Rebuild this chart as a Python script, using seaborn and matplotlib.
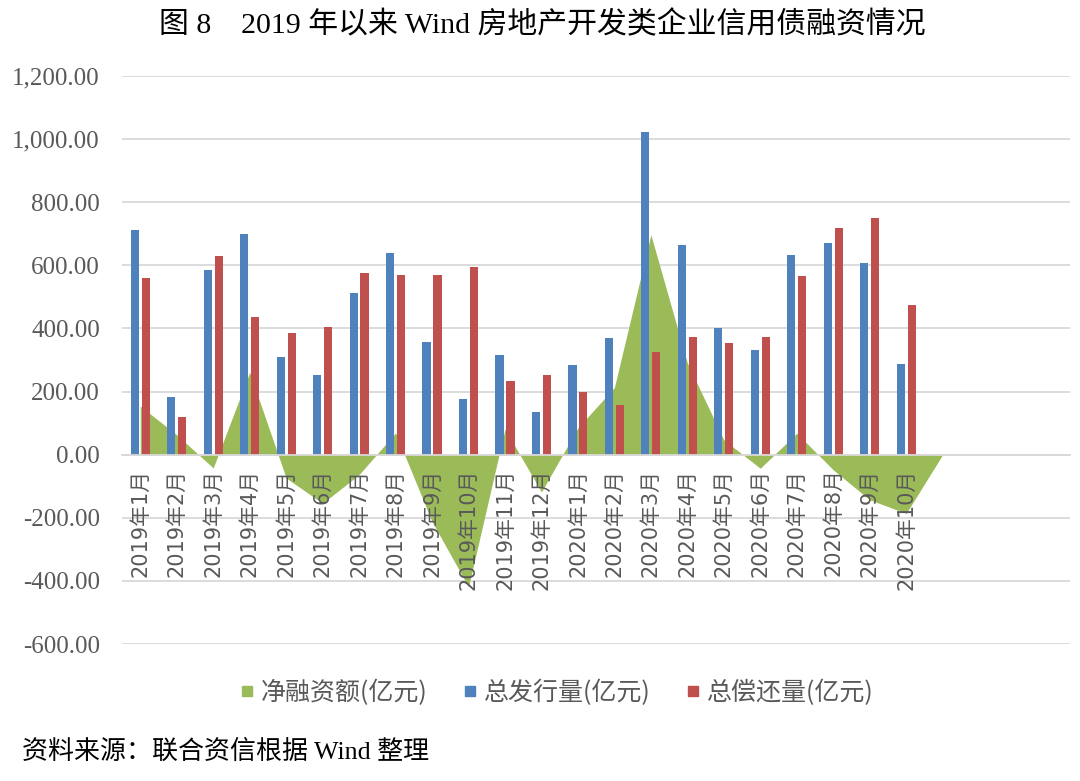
import pandas as pd
import numpy as np
import matplotlib.pyplot as plt
import seaborn as sns
from matplotlib.lines import Line2D

# Data (亿元)
categories = ["2019年1月", "2019年2月", "2019年3月", "2019年4月", "2019年5月", "2019年6月",
              "2019年7月", "2019年8月", "2019年9月", "2019年10月", "2019年11月", "2019年12月",
              "2020年1月", "2020年2月", "2020年3月", "2020年4月", "2020年5月", "2020年6月",
              "2020年7月", "2020年8月", "2020年9月", "2020年10月"]
issuance = [713, 182, 586, 698, 310, 252, 512, 639, 358, 177, 316,
            134, 283, 369, 1022, 665, 400, 331, 633, 670, 607, 288]
repayment = [559, 119, 628, 437, 384, 406, 575, 570, 570, 596, 235,
             252, 198, 156, 325, 374, 353, 374, 565, 718, 750, 474]
# net financing, last point is the empty category after 2020年10月
net = [154, 63, -42, 261, -74, -154, -63, 69, -212, -419, 81,
       -118, 85, 213, 697, 291, 47, -43, 68, -48, -143, -186, 0]

series_names = ["净融资额(亿元)", "总发行量(亿元)", "总偿还量(亿元)"]
green, blue, red = "#9BBB59", "#4F81BD", "#C0504D"
grey_text = "#595959"

sns.set_theme(style="white")
plt.rcParams['font.family'] = ['DejaVu Sans', 'Noto Sans CJK SC']

df = pd.DataFrame({
    "月份": categories * 2,
    "金额": issuance + repayment,
    "系列": [series_names[1]] * len(categories) + [series_names[2]] * len(categories),
})

fig = plt.figure(figsize=(10.8, 7.81), dpi=100)
ax = fig.add_axes([0.113, 0.1754, 0.878, 0.7273])

sns.barplot(data=df, x="月份", y="金额", hue="系列", order=categories,
            palette=[blue, red], width=0.6, gap=0.25, saturation=1,
            linewidth=0, legend=False, ax=ax)
for p in ax.patches:
    p.set_zorder(2)

# net financing area, drawn behind the bars
ax.fill_between(np.arange(len(net)), net, 0, color=green, lw=0, zorder=1)

ax.set_xlim(-0.5, 25.5)
ax.set_ylim(-600, 1200)
yticks = np.arange(-600, 1201, 200)
ax.set_yticks(yticks)
ax.set_yticklabels([f"{v:,.2f}" for v in yticks],
                   family=['Liberation Serif'], fontsize=18, color=grey_text)
ax.grid(axis='y', color='#D9D9D9', lw=1.3)
ax.grid(axis='x', visible=False)
ax.set_xlabel("")
ax.set_ylabel("")

for s in ['left', 'right', 'top']:
    ax.spines[s].set_visible(False)
ax.spines['bottom'].set_position(('data', 0))
ax.spines['bottom'].set_color('#D9D9D9')
ax.spines['bottom'].set_linewidth(1.3)

ax.tick_params(axis='x', length=0, pad=10, labelrotation=90, labelsize=15, labelcolor=grey_text)
ax.tick_params(axis='y', length=0, pad=16)
for lbl in ax.get_xticklabels():
    lbl.set_va('top')

ax.yaxis.set_zorder(0.5)
ax.xaxis.set_zorder(3)

handles = [Line2D([], [], marker='s', ls='', color=c, markersize=7.5) for c in (green, blue, red)]
fig.legend(handles, series_names, loc='center', bbox_to_anchor=(0.513, 0.1127), ncol=3,
           frameon=False, labelcolor=grey_text, handletextpad=0.05, handlelength=1.0,
           columnspacing=1.2, prop={'family': ['Noto Sans CJK SC'], 'size': 18})

fig.text(0.502, 0.968, "图 8\u30002019 年以来 Wind 房地产开发类企业信用债融资情况",
         ha='center', va='center', fontsize=21.5, color='black',
         family=['Liberation Serif', 'Noto Sans CJK SC'])
fig.text(0.02, 1 - 752 / 781, "资料来源：联合资信根据 Wind 整理",
         ha='left', va='center', fontsize=18.7, color='black',
         family=['Liberation Serif', 'Noto Sans CJK SC'])

fig.savefig("out.png", dpi=100)
